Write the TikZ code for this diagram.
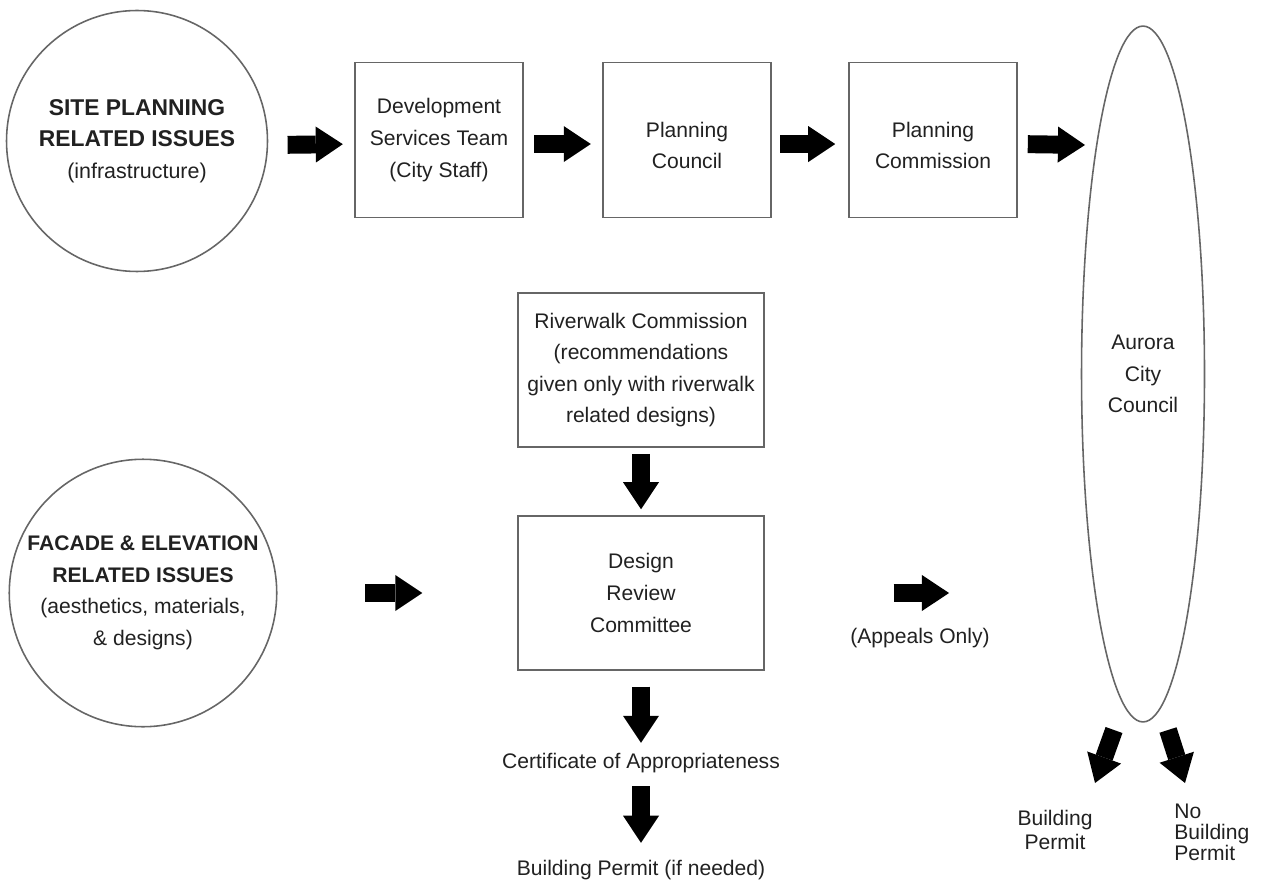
\documentclass[tikz,border=0pt]{standalone}
\usepackage{fontspec}
\setmainfont{Liberation Sans}
\usetikzlibrary{positioning,arrows.meta,shapes.geometric}

\begin{document}
\begin{tikzpicture}[
      x=0.02cm, y=-0.02cm,
      every node/.style={font=\fontsize{12}{18}\selectfont,text=black!87,align=center},
      box/.style={draw=black!60,line width=0.9pt,minimum width=3.36cm,minimum height=3.1cm,inner sep=2pt},
      wbox/.style={box,minimum width=4.92cm,minimum height=3.08cm},
      blob/.style={draw=black!60,line width=0.9pt,inner sep=0pt},
      lbl/.style={inner sep=0pt},
      blk/.style={line width=10.2pt,-{Triangle[length=15.4pt,width=20.5pt,line width=0pt]},
        draw=black,shorten <=6pt,shorten >=6.5pt},
    ]
    \useasboundingbox (0,0) rectangle (1263,888);

    % Site planning row
    \node[blob,circle,minimum size=5.22cm,font=\fontsize{13}{18}\selectfont] (site) at (137,141)
      {\textbf{SITE PLANNING}\\\textbf{RELATED ISSUES}\\{\fontsize{12.2}{18}\selectfont(infrastructure)}};
    \node[box] (dev) at (439,140) {Development\\Services Team\\(City Staff)};
    \node[box] (pcl) at (687,140) {\rule{0pt}{15pt}Planning\\Council};
    \node[box] (pcm) at (933,140) {\rule{0pt}{15pt}Planning\\Commission};
    \coordinate (cin) at (1085,145);
    \draw[blk,shorten <=11pt] ([yshift=-2.3pt]site.east) -- ([yshift=-2.3pt]dev.west);
    \draw[blk] ([yshift=-2.3pt]dev.east) -- ([yshift=-2.3pt]pcl.west);
    \draw[blk,shorten <=4.8pt,shorten >=7.4pt] ([yshift=-2.3pt]pcl.east) -- ([yshift=-2.3pt]pcm.west);
    \draw[blk,shorten <=5.7pt,shorten >=0pt] ([yshift=-2.3pt]pcm.east) -- (cin);

    % Aurora City Council
    \node[blob,ellipse,minimum width=2.46cm,minimum height=13.92cm] (council) at (1143,374)
      {Aurora\\City\\Council};

    % Facade & elevation column
    \node[blob,circle,minimum size=5.35cm] (facade) at (143,593)
      {\textbf{FACADE \& ELEVATION}\\\textbf{RELATED ISSUES}\\(aesthetics, materials,\\\& designs)};
    \node[wbox] (river) at (641,370)
      {Riverwalk Commission\\(recommendations\\given only with riverwalk\\related designs)};
    \node[wbox] (drc) at (641,593) {Design\\Review\\Committee};
    \node[lbl] (cert) at (641,763) {Certificate of Appropriateness};
    \node[lbl] (bpif) at (641,870) {Building Permit (if needed)};
    \draw[blk,shorten <=3.4pt,shorten >=3.4pt] (river) -- (drc);
    \draw[blk,shorten <=50pt,shorten >=54pt] (facade) -- (drc);
    \draw[blk,shorten <=9pt,shorten >=5.7pt] (drc) -- (cert);
    \draw[blk,shorten <=7.4pt,shorten >=9.7pt] (cert) -- (bpif);

    % Appeals
    \coordinate (cout) at (949,593);
    \draw[blk,shorten <=73.4pt,shorten >=0pt] (drc) -- (cout);
    \node[lbl] (appeal) at (920,638) {(Appeals Only)};

    % Outcomes
    \coordinate (ya) at (1114,730);
    \coordinate (yb) at (1095,783);
    \coordinate (na) at (1168,730);
    \coordinate (nb) at (1185,783);
    \draw[blk,shorten <=0pt,shorten >=0pt] (ya) -- (yb);
    \draw[blk,shorten <=0pt,shorten >=0pt] (na) -- (nb);
    \node[lbl,font=\fontsize{12}{14}\selectfont] (yes) at (1055,830) {Building\\Permit};
    \node[lbl,font=\fontsize{12}{12}\selectfont,align=left,anchor=west] (nope) at (1174,832)
      {No\\Building\\Permit};
  \end{tikzpicture}
\end{document}
